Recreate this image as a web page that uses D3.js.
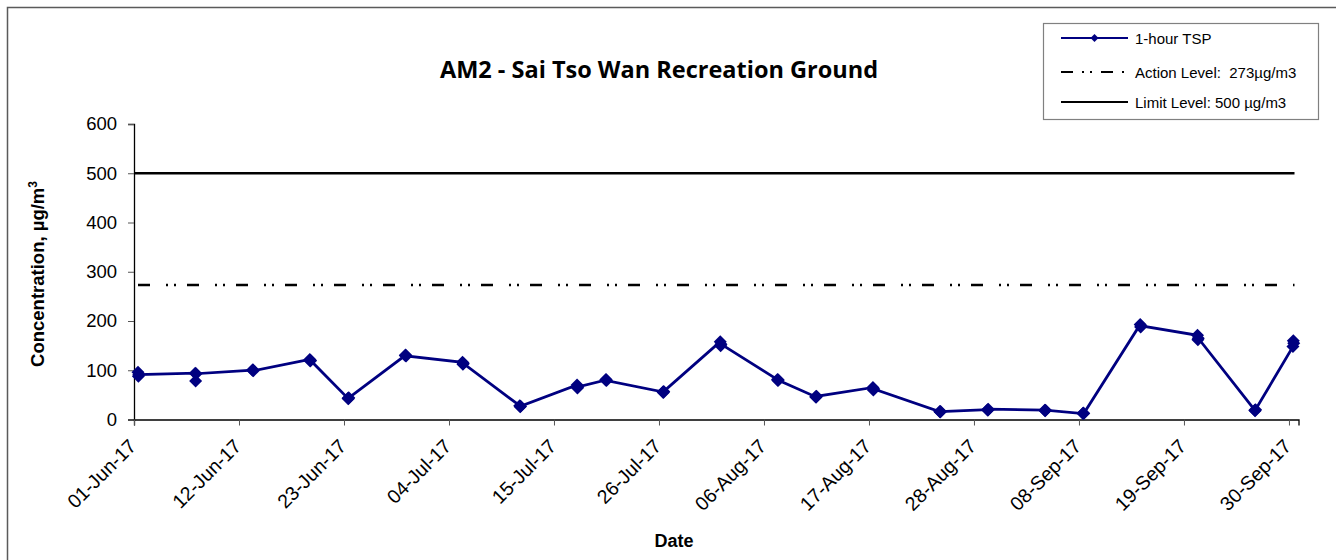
<!DOCTYPE html>
<html>
<head>
<meta charset="utf-8">
<script src="https://cdn.jsdelivr.net/npm/d3@7"></script>
<style>
  body { margin: 0; background: #fff; }
  text { font-family: "Liberation Sans", Arial, sans-serif; }
</style>
</head>
<body>
<div class="chart"></div>
<script>
// Sampling days (three 1-hour readings each)
var sampleDates = ["01-Jun-17", "07-Jun-17", "13-Jun-17", "19-Jun-17", "23-Jun-17", "29-Jun-17",
  "05-Jul-17", "11-Jul-17", "17-Jul-17", "20-Jul-17", "26-Jul-17", "01-Aug-17", "07-Aug-17",
  "11-Aug-17", "17-Aug-17", "24-Aug-17", "29-Aug-17", "04-Sep-17", "08-Sep-17", "14-Sep-17",
  "20-Sep-17", "26-Sep-17", "30-Sep-17"];
var readingHours = ["10:00", "11:00", "12:00"];
var reading1 = [96, 94, 100, 122, 43, 130, 116, 28, 70, 80, 56, 158, 81, 46, 65, 16, 20, 19, 12, 193, 171, 19, 148];
var reading2 = [88, 78, 101, 119, 42, 131, 112, 26, 64, 81, 55, 150, 79, 45, 60, 15, 19, 18, 13, 188, 162, 18, 160];
var reading3 = [91, 93, 99, 120, 44, 129, 114, 27, 66, 79, 57, 153, 80, 47, 62, 16, 21, 19, 12, 190, 165, 20, 155];

var tickLabels = ["01-Jun-17", "12-Jun-17", "23-Jun-17", "04-Jul-17", "15-Jul-17", "26-Jul-17",
  "06-Aug-17", "17-Aug-17", "28-Aug-17", "08-Sep-17", "19-Sep-17", "30-Sep-17"];
var yTicks = [0, 100, 200, 300, 400, 500, 600];

var actionLevel = 273;
var limitLevel = 500;

var svgWidth = 1336;
var svgHeight = 560;

var parseDay = d3.timeParse("%d-%b-%y");
var parseStamp = d3.timeParse("%d-%b-%y %H:%M");

// flatten readings in time order
var readings = [];
sampleDates.forEach(function(d, i) {
  [reading1[i], reading2[i], reading3[i]].forEach(function(v, j) {
    readings.push({ date: parseStamp(d + " " + readingHours[j]), value: v });
  });
});

var svg = d3.select(".chart").append("svg")
  .attr("width", svgWidth)
  .attr("height", svgHeight);

// chart area border (right/bottom edges fall outside the picture)
svg.append("rect")
  .attr("x", 7.5).attr("y", 7.5)
  .attr("width", 1400).attr("height", 700)
  .attr("fill", "none")
  .attr("stroke", "#5a5a5a")
  .attr("stroke-width", 1.5);

var xScale = d3.scaleTime()
  .domain([parseDay("01-Jun-17"), parseDay("01-Oct-17")])
  .range([134, 1298.5]);

var yScale = d3.scaleLinear()
  .domain([0, 600])
  .range([419.5, 124]);

// title
svg.append("text")
  .attr("x", 659)
  .attr("y", 78)
  .attr("text-anchor", "middle")
  .style("font-family", "'Open Sans', sans-serif")
  .style("font-weight", "bold")
  .style("font-size", "23.5px")
  .text("AM2 - Sai Tso Wan Recreation Ground");

// y axis
var yAxis = svg.append("g")
  .attr("transform", "translate(134,0)")
  .call(d3.axisLeft(yScale).tickValues(yTicks).tickSize(6).tickPadding(11));
yAxis.selectAll("text").style("font-size", "18.5px").attr("fill", "#000");
yAxis.select(".domain").attr("stroke", "#000").attr("stroke-width", 1.3);
yAxis.selectAll(".tick line").attr("stroke", "#555");

// x axis
var xAxis = svg.append("g")
  .attr("transform", "translate(0,419.5)")
  .call(d3.axisBottom(xScale).tickValues(tickLabels.map(parseDay)).tickSize(6).tickFormat(d3.timeFormat("%d-%b-%y")));
xAxis.select(".domain").attr("stroke", "#000").attr("stroke-width", 1.3);
xAxis.selectAll(".tick line").attr("stroke", "#555");
xAxis.selectAll("text")
  .style("font-size", "19.5px")
  .attr("fill", "#000")
  .attr("text-anchor", "end")
  .attr("x", 0).attr("y", 0).attr("dy", 0)
  .attr("transform", "translate(3,28) rotate(-45)");

// axis titles
svg.append("text")
  .attr("transform", "translate(44,274) rotate(-90)")
  .attr("text-anchor", "middle")
  .style("font-weight", "bold")
  .style("font-size", "18.5px")
  .text("Concentration, µg/m")
  .append("tspan")
  .attr("dy", -7)
  .style("font-size", "12px")
  .text("3");

svg.append("text")
  .attr("x", 674)
  .attr("y", 547)
  .attr("text-anchor", "middle")
  .style("font-weight", "bold")
  .style("font-size", "18px")
  .text("Date");

// limit and action levels
var x0 = xScale(parseDay("01-Jun-17"));
var x1 = xScale(parseDay("01-Oct-17")) - 4;
svg.append("line")
  .attr("x1", x0).attr("x2", x1)
  .attr("y1", yScale(limitLevel)).attr("y2", yScale(limitLevel))
  .attr("stroke", "#000").attr("stroke-width", 2.5);

svg.append("line")
  .attr("x1", x0 + 4).attr("x2", x1)
  .attr("y1", yScale(actionLevel)).attr("y2", yScale(actionLevel))
  .attr("stroke", "#000").attr("stroke-width", 2.5)
  .attr("stroke-dasharray", "12,16,2,6,2,11");

// TSP series
var line = d3.line()
  .x(d => xScale(d.date))
  .y(d => yScale(d.value));

svg.append("path")
  .datum(readings)
  .attr("d", line)
  .attr("fill", "none")
  .attr("stroke", "#000080")
  .attr("stroke-width", 2.8);

var diamond = "M0,-6.5L6.5,0L0,6.5L-6.5,0Z";
svg.selectAll(".pt")
  .data(readings)
  .enter()
  .append("path")
  .attr("class", "pt")
  .attr("d", diamond)
  .attr("transform", d => "translate(" + xScale(d.date) + "," + yScale(d.value) + ")")
  .attr("fill", "#000080");

// legend
var legend = svg.append("g");
legend.append("rect")
  .attr("x", 1043.5).attr("y", 23.5)
  .attr("width", 275).attr("height", 96)
  .attr("fill", "#fff")
  .attr("stroke", "#808080")
  .attr("stroke-width", 1.2);

var legendItems = [
  { label: "1-hour TSP", y: 38, color: "#000080", dash: null, marker: true },
  { label: "Action Level:\u00a0\u00a0273µg/m3", y: 72, color: "#000", dash: "12,9,2,6,2,9", marker: false },
  { label: "Limit Level: 500 µg/m3", y: 102, color: "#000", dash: null, marker: false }
];
legendItems.forEach(function(item) {
  legend.append("line")
    .attr("x1", 1061).attr("x2", 1128)
    .attr("y1", item.y).attr("y2", item.y)
    .attr("stroke", item.color)
    .attr("stroke-width", 2.2)
    .attr("stroke-dasharray", item.dash);
  if (item.marker) {
    legend.append("path")
      .attr("d", "M0,-4L4,0L0,4L-4,0Z")
      .attr("transform", "translate(1094.5," + item.y + ")")
      .attr("fill", item.color);
  }
  legend.append("text")
    .attr("x", 1135)
    .attr("y", item.y + 5.5)
    .style("font-size", "15px")
    .text(item.label);
});
</script>
</body>
</html>
